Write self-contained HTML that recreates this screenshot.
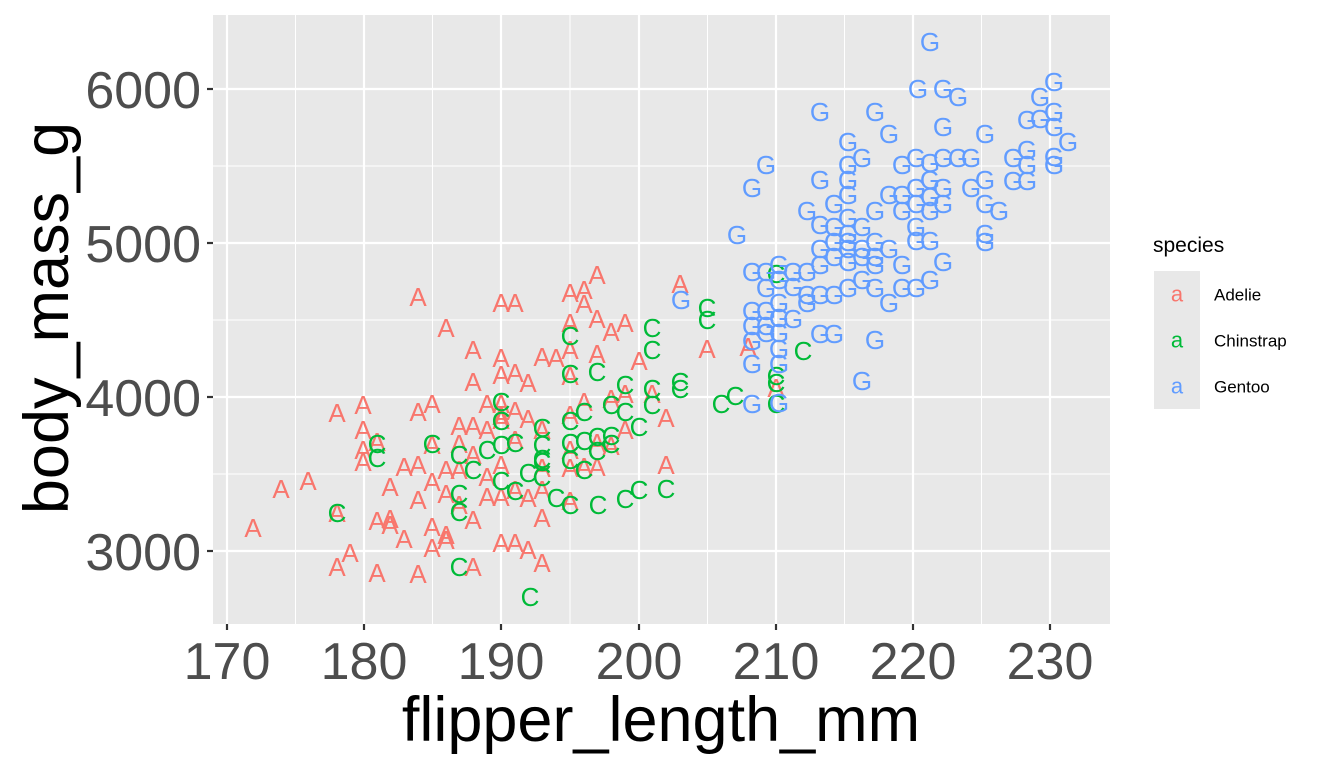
<!DOCTYPE html>
<html><head><meta charset="utf-8"><style>body{margin:0;background:#fff}svg{display:block}</style></head><body>
<svg width="1344" height="768" xmlns="http://www.w3.org/2000/svg" font-family="Liberation Sans, sans-serif">
<rect x="213" y="15" width="897" height="609" fill="#E8E8E8"/>
<g stroke="#fff" stroke-width="1">
<line x1="295.5" x2="295.5" y1="15" y2="624"/><line x1="432.5" x2="432.5" y1="15" y2="624"/><line x1="570" x2="570" y1="15" y2="624"/><line x1="707.5" x2="707.5" y1="15" y2="624"/><line x1="844.5" x2="844.5" y1="15" y2="624"/><line x1="981.5" x2="981.5" y1="15" y2="624"/>
<line y1="474" y2="474" x1="213" x2="1110"/><line y1="320" y2="320" x1="213" x2="1110"/><line y1="166" y2="166" x1="213" x2="1110"/>
</g>
<g stroke="#fff" stroke-width="2.2">
<line x1="227" x2="227" y1="15" y2="624"/><line x1="364" x2="364" y1="15" y2="624"/><line x1="501" x2="501" y1="15" y2="624"/><line x1="639" x2="639" y1="15" y2="624"/><line x1="776" x2="776" y1="15" y2="624"/><line x1="913" x2="913" y1="15" y2="624"/><line x1="1050" x2="1050" y1="15" y2="624"/>
<line y1="551" y2="551" x1="213" x2="1110"/><line y1="397" y2="397" x1="213" x2="1110"/><line y1="243" y2="243" x1="213" x2="1110"/><line y1="89" y2="89" x1="213" x2="1110"/>
</g>
<g stroke="#333" stroke-width="2.2">
<line x1="227" x2="227" y1="624" y2="630"/><line x1="364" x2="364" y1="624" y2="630"/><line x1="501" x2="501" y1="624" y2="630"/><line x1="639" x2="639" y1="624" y2="630"/><line x1="776" x2="776" y1="624" y2="630"/><line x1="913" x2="913" y1="624" y2="630"/><line x1="1050" x2="1050" y1="624" y2="630"/>
<line y1="551" y2="551" x1="207" x2="213"/><line y1="397" y2="397" x1="207" x2="213"/><line y1="243" y2="243" x1="207" x2="213"/><line y1="89" y2="89" x1="207" x2="213"/>
</g>
<g fill="#4D4D4D" font-size="52" text-anchor="middle">
<text x="227" y="679">170</text><text x="364" y="679">180</text><text x="501" y="679">190</text><text x="639" y="679">200</text><text x="776" y="679">210</text><text x="913" y="679">220</text><text x="1050" y="679">230</text>
</g>
<g fill="#4D4D4D" font-size="52" text-anchor="end">
<text x="201" y="570">3000</text><text x="201" y="416">4000</text><text x="201" y="262">5000</text><text x="201" y="108">6000</text>
</g>
<text x="661" y="741" font-size="63" text-anchor="middle" fill="#000">flipper_length_mm</text>
<text transform="translate(68,318) rotate(-90)" font-size="63" text-anchor="middle" fill="#000">body_mass_g</text>
<g font-size="26" text-anchor="middle" dominant-baseline="central" fill="#F8766D">
<text x="253" y="528">A</text><text x="281" y="489">A</text><text x="308" y="481">A</text><text x="337" y="413">A</text><text x="337" y="567">A</text><text x="337" y="513">A</text><text x="350" y="553">A</text><text x="363" y="405">A</text><text x="363" y="430">A</text><text x="363" y="462">A</text><text x="363" y="450">A</text><text x="377" y="442">A</text><text x="377" y="521">A</text><text x="377" y="573">A</text><text x="390" y="487">A</text><text x="390" y="519">A</text><text x="390" y="525">A</text><text x="404" y="539">A</text><text x="404" y="467">A</text><text x="418" y="297">A</text><text x="418" y="412">A</text><text x="418" y="574">A</text><text x="418" y="465">A</text><text x="418" y="500">A</text><text x="432" y="404">A</text><text x="432" y="445">A</text><text x="432" y="482">A</text><text x="432" y="548">A</text><text x="432" y="527">A</text><text x="446" y="328">A</text><text x="446" y="470">A</text><text x="446" y="494">A</text><text x="446" y="540">A</text><text x="446" y="535">A</text><text x="459" y="426">A</text><text x="459" y="470">A</text><text x="459" y="505">A</text><text x="459" y="444">A</text><text x="473" y="350">A</text><text x="473" y="382">A</text><text x="473" y="426">A</text><text x="473" y="455">A</text><text x="473" y="567">A</text><text x="473" y="520">A</text><text x="487" y="477">A</text><text x="487" y="497">A</text><text x="487" y="404">A</text><text x="487" y="430">A</text><text x="501" y="303">A</text><text x="501" y="358">A</text><text x="501" y="404">A</text><text x="501" y="420">A</text><text x="501" y="465">A</text><text x="501" y="497">A</text><text x="501" y="543">A</text><text x="501" y="416">A</text><text x="501" y="375">A</text><text x="515" y="303">A</text><text x="515" y="373">A</text><text x="515" y="411">A</text><text x="515" y="440">A</text><text x="515" y="543">A</text><text x="515" y="490">A</text><text x="528" y="383">A</text><text x="528" y="419">A</text><text x="528" y="498">A</text><text x="528" y="550">A</text><text x="542" y="357">A</text><text x="542" y="430">A</text><text x="542" y="468">A</text><text x="542" y="490">A</text><text x="542" y="518">A</text><text x="542" y="563">A</text><text x="556" y="358">A</text><text x="570" y="293">A</text><text x="570" y="323">A</text><text x="570" y="350">A</text><text x="570" y="415">A</text><text x="570" y="450">A</text><text x="570" y="468">A</text><text x="570" y="501">A</text><text x="570" y="376">A</text><text x="584" y="304">A</text><text x="584" y="290">A</text><text x="584" y="402">A</text><text x="584" y="467">A</text><text x="597" y="275">A</text><text x="597" y="319">A</text><text x="597" y="354">A</text><text x="597" y="443">A</text><text x="597" y="467">A</text><text x="611" y="332">A</text><text x="611" y="399">A</text><text x="611" y="446">A</text><text x="625" y="323">A</text><text x="625" y="394">A</text><text x="625" y="430">A</text><text x="639" y="361">A</text><text x="652" y="394">A</text><text x="666" y="418">A</text><text x="666" y="465">A</text><text x="680" y="284">A</text><text x="707" y="349">A</text><text x="748" y="347">A</text><text x="776" y="388">A</text>
</g>
<g font-size="26" text-anchor="middle" dominant-baseline="central" fill="#00BA38">
<text x="337" y="513">C</text><text x="377" y="444">C</text><text x="377" y="458">C</text><text x="432" y="444">C</text><text x="459" y="455">C</text><text x="459" y="494">C</text><text x="459" y="512">C</text><text x="459" y="567">C</text><text x="473" y="470">C</text><text x="487" y="450">C</text><text x="501" y="402">C</text><text x="501" y="421">C</text><text x="501" y="445">C</text><text x="501" y="481">C</text><text x="515" y="443">C</text><text x="515" y="491">C</text><text x="528" y="473">C</text><text x="542" y="428">C</text><text x="542" y="459">C</text><text x="542" y="445">C</text><text x="542" y="462">C</text><text x="542" y="477">C</text><text x="556" y="498">C</text><text x="570" y="336">C</text><text x="570" y="374">C</text><text x="570" y="421">C</text><text x="570" y="443">C</text><text x="570" y="460">C</text><text x="570" y="505">C</text><text x="584" y="412">C</text><text x="584" y="441">C</text><text x="584" y="470">C</text><text x="597" y="372">C</text><text x="597" y="437">C</text><text x="597" y="451">C</text><text x="611" y="405">C</text><text x="611" y="436">C</text><text x="611" y="444">C</text><text x="625" y="412">C</text><text x="625" y="499">C</text><text x="639" y="427">C</text><text x="639" y="490">C</text><text x="652" y="405">C</text><text x="652" y="389">C</text><text x="666" y="489">C</text><text x="680" y="382">C</text><text x="680" y="389">C</text><text x="707" y="308">C</text><text x="707" y="320">C</text><text x="721" y="404">C</text><text x="735" y="396">C</text><text x="776" y="274">C</text><text x="776" y="376">C</text><text x="776" y="404">C</text><text x="776" y="383">C</text><text x="803" y="351">C</text><text x="652" y="328">C</text><text x="652" y="350">C</text><text x="530" y="597">C</text><text x="598" y="505">C</text><text x="625" y="385">C</text>
</g>
<g font-size="26" text-anchor="middle" dominant-baseline="central" fill="#619CFF">
<text x="930" y="42">G</text><text x="918" y="89">G</text><text x="943" y="89">G</text><text x="958" y="97">G</text><text x="1054" y="82">G</text><text x="1040" y="97">G</text><text x="1054" y="112">G</text><text x="820" y="112">G</text><text x="875" y="112">G</text><text x="889" y="134">G</text><text x="943" y="127">G</text><text x="848" y="142">G</text><text x="1054" y="127">G</text><text x="1068" y="142">G</text><text x="1040" y="119">G</text><text x="1027" y="150">G</text><text x="1054" y="157">G</text><text x="1054" y="165">G</text><text x="1013" y="158">G</text><text x="985" y="134">G</text><text x="971" y="158">G</text><text x="958" y="158">G</text><text x="943" y="158">G</text><text x="930" y="163">G</text><text x="916" y="158">G</text><text x="902" y="165">G</text><text x="862" y="158">G</text><text x="848" y="165">G</text><text x="766" y="165">G</text><text x="752" y="188">G</text><text x="820" y="180">G</text><text x="848" y="180">G</text><text x="848" y="195">G</text><text x="889" y="195">G</text><text x="902" y="195">G</text><text x="930" y="180">G</text><text x="943" y="188">G</text><text x="971" y="188">G</text><text x="985" y="180">G</text><text x="1027" y="165">G</text><text x="1027" y="181">G</text><text x="1013" y="181">G</text><text x="985" y="204">G</text><text x="999" y="211">G</text><text x="916" y="204">G</text><text x="902" y="211">G</text><text x="875" y="211">G</text><text x="807" y="211">G</text><text x="834" y="204">G</text><text x="848" y="218">G</text><text x="848" y="234">G</text><text x="848" y="242">G</text><text x="862" y="227">G</text><text x="875" y="242">G</text><text x="889" y="249">G</text><text x="820" y="249">G</text><text x="834" y="257">G</text><text x="834" y="227">G</text><text x="916" y="227">G</text><text x="916" y="241">G</text><text x="930" y="241">G</text><text x="916" y="188">G</text><text x="930" y="197">G</text><text x="943" y="204">G</text><text x="930" y="211">G</text><text x="737" y="235">G</text><text x="985" y="242">G</text><text x="943" y="262">G</text><text x="902" y="265">G</text><text x="875" y="257">G</text><text x="862" y="257">G</text><text x="875" y="265">G</text><text x="862" y="249">G</text><text x="848" y="249">G</text><text x="820" y="265">G</text><text x="807" y="272">G</text><text x="793" y="272">G</text><text x="779" y="265">G</text><text x="766" y="272">G</text><text x="752" y="272">G</text><text x="766" y="288">G</text><text x="779" y="280">G</text><text x="793" y="287">G</text><text x="807" y="295">G</text><text x="820" y="295">G</text><text x="834" y="295">G</text><text x="848" y="288">G</text><text x="862" y="280">G</text><text x="875" y="288">G</text><text x="889" y="303">G</text><text x="902" y="288">G</text><text x="916" y="288">G</text><text x="930" y="280">G</text><text x="807" y="303">G</text><text x="779" y="303">G</text><text x="766" y="311">G</text><text x="752" y="311">G</text><text x="766" y="326">G</text><text x="752" y="326">G</text><text x="766" y="333">G</text><text x="779" y="333">G</text><text x="793" y="319">G</text><text x="779" y="318">G</text><text x="752" y="341">G</text><text x="752" y="364">G</text><text x="779" y="364">G</text><text x="779" y="349">G</text><text x="820" y="334">G</text><text x="834" y="334">G</text><text x="875" y="340">G</text><text x="862" y="381">G</text><text x="752" y="404">G</text><text x="779" y="403">G</text><text x="681" y="300">G</text><text x="848" y="262">G</text><text x="834" y="242">G</text><text x="1027" y="120">G</text><text x="985" y="234">G</text><text x="820" y="225">G</text>
</g>
<text x="1153" y="252" font-size="21" fill="#000">species</text>
<rect x="1154" y="271" width="46" height="138" fill="#E8E8E8"/>
<g font-size="22" text-anchor="middle" dominant-baseline="central">
<text x="1177" y="294" fill="#F8766D">a</text><text x="1177" y="340" fill="#00BA38">a</text><text x="1177" y="386" fill="#619CFF">a</text>
</g>
<g font-size="17" fill="#000" dominant-baseline="central">
<text x="1214" y="295">Adelie</text><text x="1214" y="341">Chinstrap</text><text x="1214" y="387">Gentoo</text>
</g>
</svg>
</body></html>
